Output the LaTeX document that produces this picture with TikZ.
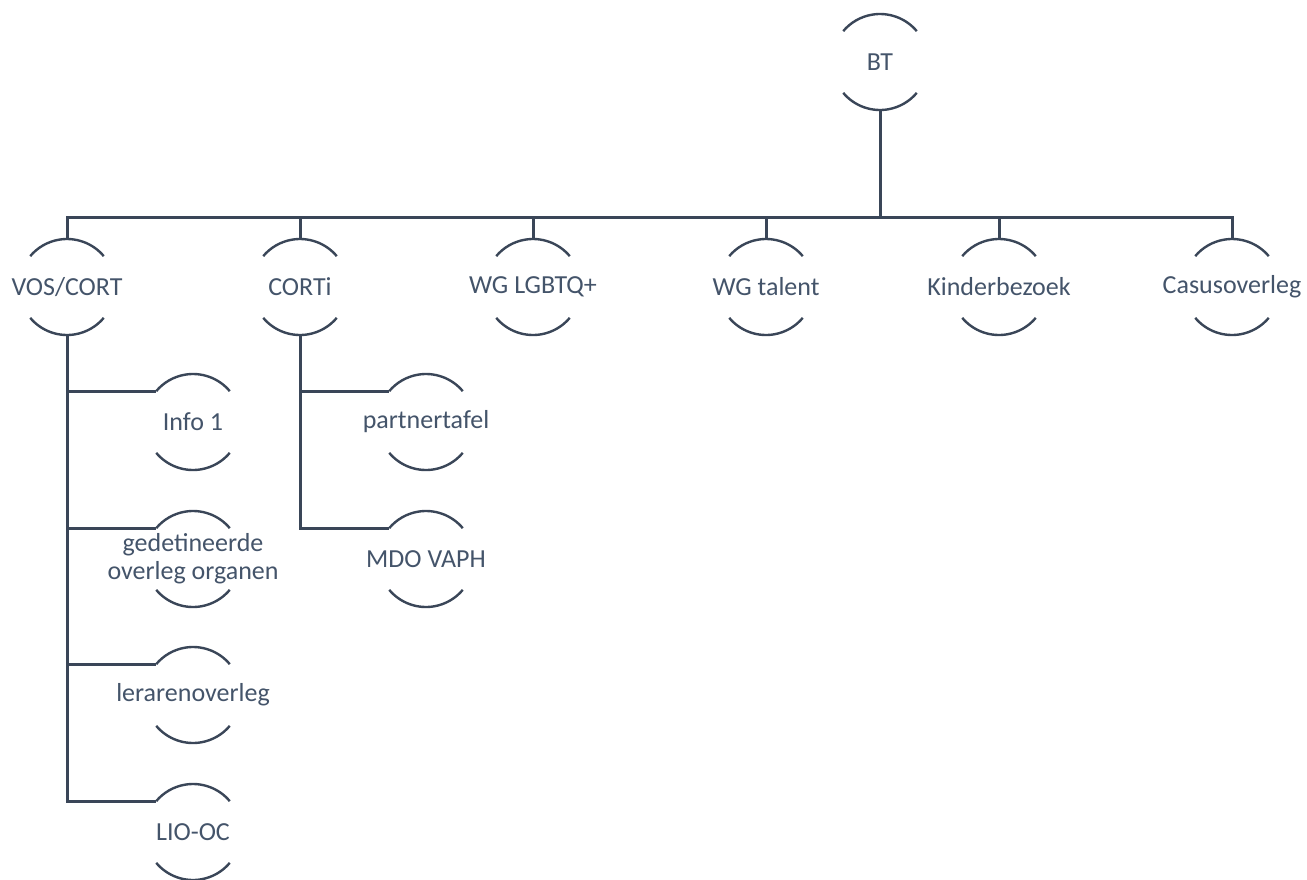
\documentclass[tikz,border=0pt]{standalone}
\usepackage{fontspec}
\setmainfont{Carlito}
\definecolor{txt}{HTML}{44546A}
\definecolor{ln}{HTML}{3A4658}
\begin{document}
\begin{tikzpicture}[x=1pt,y=-1pt,
  lbl/.style={text=txt,font=\fontsize{26}{28}\selectfont,align=center,inner sep=0pt},
  arcline/.style={draw=ln,line width=2.4pt},
  conn/.style={draw=ln,line width=3pt}]
\useasboundingbox (0,0) rectangle (1307,879);
\fill[white] (0,0) rectangle (1307,879);
% nodes
\node[lbl] (bt)   at (880,62)  {BT};
\node[lbl] (vos)  at (67,287)  {VOS/CORT};
\node[lbl] (corti) at (300,287) {CORTi};
\node[lbl] (lgbt) at (533,287) {WG LGBTQ+};
\node[lbl] (tal)  at (766,287) {WG talent};
\node[lbl] (kind) at (999,287) {Kinderbezoek};
\node[lbl] (cas)  at (1232,287) {Casusoverleg};
\node[lbl] (info) at (193,422) {Info 1};
\node[lbl] (ged)  at (193,559) {gedetineerde\\overleg organen};
\node[lbl] (ler)  at (193,695) {lerarenoverleg};
\node[lbl] (lio)  at (193,832) {LIO-OC};
\node[lbl] (part) at (426,422) {partnertafel};
\node[lbl] (mdo)  at (426,559) {MDO VAPH};
\coordinate (bus) at (880,217);
% arcs
\foreach \n in {bt,vos,corti,lgbt,tal,kind,cas,info,ged,ler,lio,part,mdo}{
  \draw[arcline] ([shift={(40:48pt)}]\n.center) arc (40:140:48pt);
  \draw[arcline] ([shift={(220:48pt)}]\n.center) arc (220:320:48pt);
}
% connectors
\draw[conn] ([yshift=-48pt]bt.center) -- (bus);
\foreach \n in {vos,corti,lgbt,tal,kind,cas}{
  \draw[conn] ([yshift=48pt]\n.center) |- (bus);
}
\draw[conn] ([yshift=-48pt]vos.center) |- ([shift={(140:48pt)}]lio.center);
\foreach \n in {info,ged,ler}{
  \draw[conn] ([yshift=-48pt]vos.center) |- ([shift={(140:48pt)}]\n.center);
}
\draw[conn] ([yshift=-48pt]corti.center) |- ([shift={(140:48pt)}]mdo.center);
\draw[conn] ([yshift=-48pt]corti.center) |- ([shift={(140:48pt)}]part.center);
\end{tikzpicture}
\end{document}
